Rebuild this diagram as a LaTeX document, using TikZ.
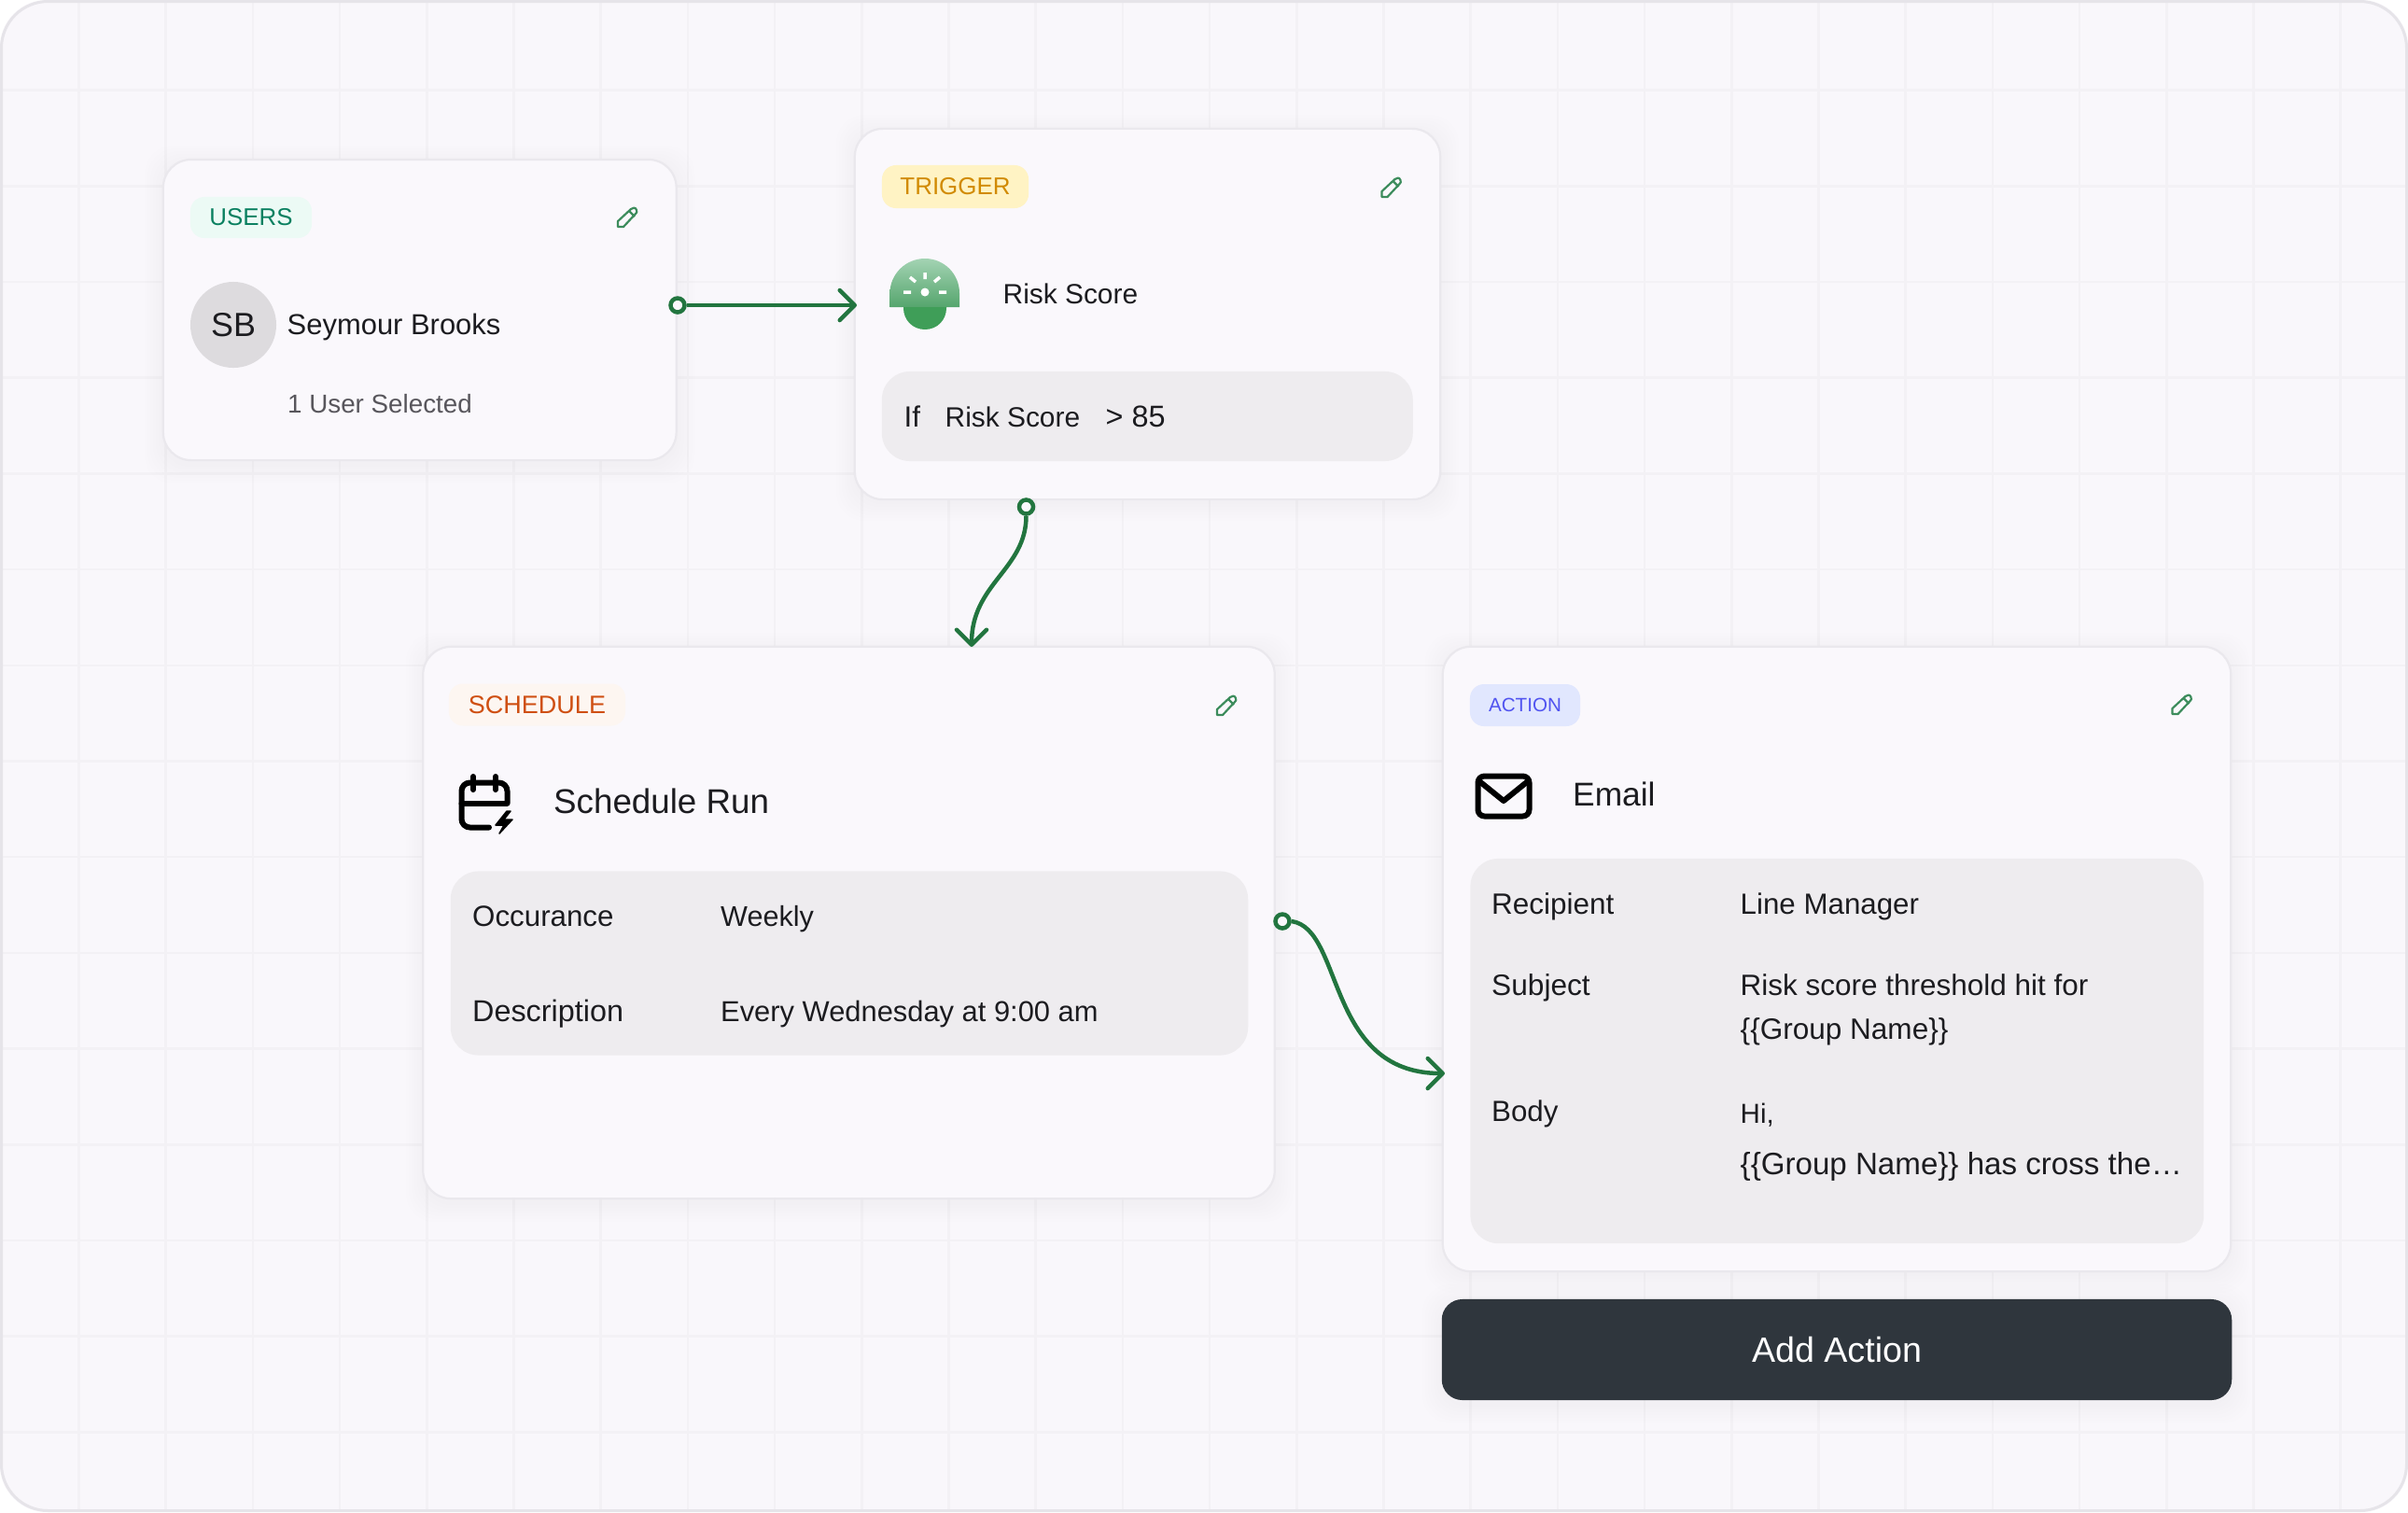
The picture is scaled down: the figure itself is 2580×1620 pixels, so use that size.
\documentclass[tikz,border=0pt]{standalone}
\usepackage{fontspec}
\setmainfont{Liberation Sans}
\usetikzlibrary{arrows.meta}
\definecolor{framecol}{HTML}{E6E4E9}
\definecolor{backcol}{HTML}{F9F7FB}
\definecolor{gridcol}{HTML}{F3F1F5}
\definecolor{cardcol}{HTML}{FAF8FC}
\definecolor{cardline}{HTML}{EAE8ED}
\definecolor{boxcol}{HTML}{EEECEF}
\definecolor{linkcol}{HTML}{22753F}
\definecolor{penccol}{HTML}{3C8C5C}
\definecolor{inkcol}{HTML}{1C1C20}
\definecolor{subcol}{HTML}{58565C}
\definecolor{addcol}{HTML}{2F363D}
\definecolor{avatarcol}{HTML}{DDDBDE}
\definecolor{usersbg}{HTML}{ECFAF5}
\definecolor{userstx}{HTML}{0A8060}
\definecolor{triggerbg}{HTML}{FFF3C4}
\definecolor{triggertx}{HTML}{D18A00}
\definecolor{schedulebg}{HTML}{FDF6F1}
\definecolor{scheduletx}{HTML}{CF4F12}
\definecolor{actionbg}{HTML}{E1E7FE}
\definecolor{actiontx}{HTML}{5053F0}
\definecolor{riskhi}{HTML}{A3D3B3}
\definecolor{risklo}{HTML}{55A56D}
\definecolor{riskbase}{HTML}{3F9E58}
\tikzset{
    card/.style={draw=cardline, fill=cardcol, line width=.022cm, rounded corners=.3cm, inner sep=0pt},
    greybox/.style={fill=boxcol, rounded corners=.3cm, inner sep=0pt},
    tag/.style={rounded corners=.15cm, inner sep=0pt, font=\fontsize{#1}{#1}\selectfont},
    lbl/.style={anchor=base west, inner sep=0pt, text=inkcol, font=\fontsize{#1}{#1}\selectfont},
    port/.style={circle, draw=linkcol, fill=cardcol, line width=.045cm, minimum size=.15cm, inner sep=0pt},
    link/.style={->, draw=linkcol, line width=.045cm},
    iconline/.style={draw=black, line width=.06cm, line cap=round, line join=round},
    pencilmark/.pic={
        \draw[penccol, line width=.022cm, line join=round] (-10,10) -- (-10,4) -- (4,-9)
            .. controls (6,-11) and (9,-11) .. (10,-8) .. controls (11,-6) and (10,-5) .. (9,-4)
            -- (-4,10) -- cycle (2,-7) -- (8,-1);
    }
}
% shadow under a card
\newcommand{\cardshadow}[4]{
    \foreach \g in {2,5,...,20}
        \fill[black, opacity=.003, rounded corners=.3cm] (#1-\g,#2-\g+5) rectangle (#3+\g,#4+\g+5);
}
\begin{document}
\begin{tikzpicture}[x=.01cm, y=-.01cm, >={Straight Barb[length=.16cm, width=.32cm, round]}]
    \useasboundingbox (0,0) rectangle (2580,1620);
    \fill[white] (0,0) rectangle (2580,1620);

    % Frame
    \begin{scope}
        \clip[rounded corners=.5cm] (0,0) rectangle (2580,1620);
        \fill[backcol] (0,0) rectangle (2580,1620);
        \foreach \i in {0,...,26}
            \draw[gridcol, line width=.025cm] ({84.5+93.2*\i},0) -- ({84.5+93.2*\i},1620);
        \foreach \j in {0,...,14}
            \draw[gridcol, line width=.025cm] (0,{96.6+102.7*\j}) -- (2580,{96.6+102.7*\j});
    \end{scope}
    \draw[framecol, line width=.03cm, rounded corners=.5cm] (1.5,1.5) rectangle (2578.5,1618.5);

    % Shadows
    \cardshadow{175}{171}{724.5}{493}
    \cardshadow{916}{138}{1543}{533}
    \cardshadow{455}{693}{1365.5}{1284}
    \cardshadow{1547}{693}{2390}{1360}
    \cardshadow{1544}{1391}{2392}{1500}

    % Cards
    \node[card, minimum width=5.495cm, minimum height=3.22cm] (userscard) at (449.75,332) {};
    \node[card, minimum width=6.27cm, minimum height=3.97cm] (triggercard) at (1229.5,336.5) {};
    \node[card, minimum width=9.12cm, minimum height=5.91cm] (schedulecard) at (909.5,988.5) {};
    \node[card, minimum width=8.44cm, minimum height=6.69cm] (actioncard) at (1968,1027.5) {};
    \node[fill=addcol, rounded corners=.22cm, inner sep=0pt, text=white, font=\fontsize{10.7}{10.7}\selectfont,
        minimum width=8.46cm, minimum height=1.08cm] (addaction) at (1968,1446) {\raisebox{-.4pt}{Add Action}};

    % Tags
    \node[tag=7.35, fill=usersbg, text=userstx, minimum width=1.3cm, minimum height=.44cm] (userstag) at (269,233) {USERS};
    \node[tag=7.37, fill=triggerbg, text=triggertx, minimum width=1.57cm, minimum height=.46cm] (triggertag) at (1023.5,200) {TRIGGER};
    \node[tag=7.68, fill=schedulebg, text=scheduletx, minimum width=1.89cm, minimum height=.45cm] (scheduletag) at (575.5,755) {SCHEDULE};
    \node[tag=5.87, fill=actionbg, text=actiontx, minimum width=1.18cm, minimum height=.45cm] (actiontag) at (1634,755.5) {ACTION};

    % Pencils
    \pic at (672,233) {pencilmark};
    \pic at (1490.5,201) {pencilmark};
    \pic at (1314,756) {pencilmark};
    \pic at (2337.5,755) {pencilmark};

    % Users
    \node[circle, fill=avatarcol, minimum size=.92cm, inner sep=0pt, text=inkcol, font=\fontsize{10.2}{10.2}\selectfont] (avatar) at (250,348) {SB};
    \node[lbl=8.8] (usersname) at (307,358) {Seymour Brooks};
    \node[lbl=7.9, text=subcol] (userscount) at (307.5,442) {1 User Selected};

    % Trigger
    \shade[top color=riskhi, bottom color=risklo] (953.5,329) -- (953.5,314) .. controls (953.5,293.5) and (970.5,277) .. (991,277)
        .. controls (1011.5,277) and (1028,293.5) .. (1028,314) -- (1028,329) -- cycle;
    \fill[riskbase] (968,329) -- (968,330) .. controls (968,343) and (978,353) .. (991,353)
        .. controls (1004,353) and (1014,343) .. (1014,330) -- (1014,329) -- cycle;
    \fill[white] (991,313) circle (4.5);
    \draw[white, line width=.035cm] (968,313) -- (976,313) (1006,313) -- (1014,313) (991,292) -- (991,299)
        (975,297) -- (981,302) (1007,297) -- (1001,302);
    \node[lbl=8.5] (riskname) at (1074,325.5) {Risk Score};
    \node[greybox, minimum width=5.686cm, minimum height=.96cm] (triggerbox) at (1229.3,446) {};
    \node[lbl=8.9] (ifword) at (968,457) {If};
    \node[lbl=8.5] (ifrisk) at (1012,457) {Risk Score};
    \node[lbl=9.2] (ifvalue) at (1184,457) {> 85};

    % Schedule
    \draw[iconline, rounded corners=.09cm] (543.5,860) -- (543.5,838.5) -- (494.5,838.5) -- (494.5,886.5) -- (524,886.5);
    \draw[iconline] (494.5,860.5) -- (543.5,860.5) (507,832) -- (507,846) (531,832) -- (531,846);
    \fill[black, draw=black, line width=.015cm, line join=round] (543,869) -- (531,884) -- (540,884) -- (535,893) -- (549,878) -- (540,878) -- (547,869) -- cycle;
    \node[lbl=10.45] (schedulename) at (592.5,871.5) {Schedule Run};
    \node[greybox, minimum width=8.54cm, minimum height=1.97cm] (schedulebox) at (910,1032) {};
    \node[lbl=8.9] (occurlabel) at (505.5,992.5) {Occurance};
    \node[lbl=8.7] (occurvalue) at (771.5,992.5) {Weekly};
    \node[lbl=9.2] (desclabel) at (505.5,1094) {Description};
    \node[lbl=8.78] (descvalue) at (771.5,1094) {Every Wednesday at 9:00 am};

    % Action
    \draw[iconline, rounded corners=.07cm] (1583.5,831.5) rectangle (1638.5,874.5);
    \draw[iconline, line cap=butt] (1585,837) -- (1611,858) -- (1637,837);
    \node[lbl=10.05] (actionname) at (1684.5,863.5) {Email};
    \node[greybox, minimum width=7.854cm, minimum height=4.12cm] (actionbox) at (1968.3,1126) {};
    \node[lbl=8.95] (reclabel) at (1597.5,979) {Recipient};
    \node[lbl=8.9] (recvalue) at (1864,979) {Line Manager};
    \node[lbl=9] (subjlabel) at (1597.5,1066) {Subject};
    \node[lbl=8.95] (subjvalue) at (1864,1066) {Risk score threshold hit for};
    \node[lbl=8.97] (subjgroup) at (1864,1113) {\{\{Group Name\}\}};
    \node[lbl=8.9] (bodylabel) at (1597.5,1201.5) {Body};
    \node[lbl=8.4] (bodyhi) at (1864,1203.5) {Hi,};
    \node[lbl=9.42] (bodyvalue) at (1864,1258) {\{\{Group Name\}\} has cross the…};

    % Links
    \node[port] (usersport) at (726,327) {};
    \node[port] (triggerport) at (1099.5,543) {};
    \node[port] (scheduleport) at (1374,987) {};
    \coordinate (triggerleft) at (918,327);
    \coordinate (scheduletop) at (1041,693);
    \coordinate (actionleft) at (1548,1150);
    \draw[link] (usersport) -- (triggerleft);
    \draw[link] (triggerport.south) .. controls (1099.5,610) and (1041,625) .. (scheduletop);
    \draw[link] (scheduleport.east) .. controls (1440,995) and (1420,1150) .. (actionleft);
\end{tikzpicture}
\end{document}
